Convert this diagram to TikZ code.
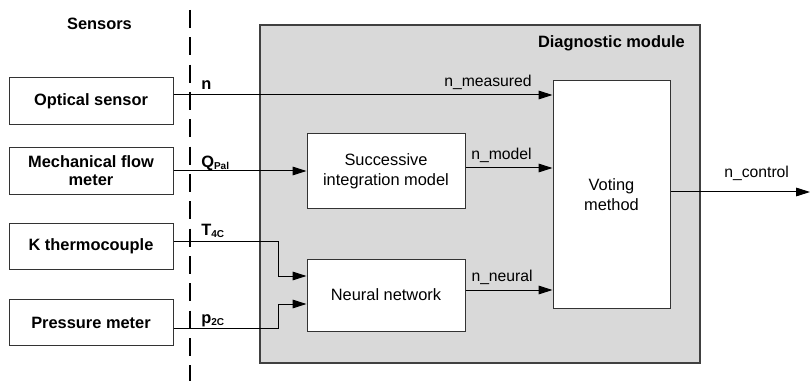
\documentclass[tikz,border=0pt]{standalone}
\usepackage{fontspec}
\setmainfont{Liberation Sans}
\usetikzlibrary{arrows.meta}
\begin{document}
\begin{tikzpicture}[x=0.75pt,y=-0.75pt,
  every node/.style={font=\fontsize{12.3}{14.5}\selectfont},
  sensor/.style={draw=black!80,fill=white,line width=0.75pt,inner sep=0pt,
    minimum width=123pt,minimum height=35pt,align=center,font=\fontsize{12.3}{13.7}\selectfont\bfseries},
  block/.style={draw=black!80,fill=white,line width=0.75pt,inner sep=0pt,align=center,
    font=\fontsize{12.3}{15}\selectfont},
  conn/.style={line width=0.75pt,-{Triangle[length=10.5pt,width=6.5pt]}},
  plain/.style={line width=0.75pt},
  lbl/.style={inner sep=0pt,font=\fontsize{11.8}{14}\selectfont},
  slbl/.style={inner sep=0pt,font=\fontsize{12.3}{14}\selectfont\bfseries}
]
\useasboundingbox (0,0) rectangle (810,381);
% module background
\node[draw=black!75,fill=black!15,line width=0.9pt,inner sep=0pt,minimum width=330pt,minimum height=253.5pt] (mod) at (480,194) {};
\node[anchor=base east,inner sep=0pt,font=\fontsize{12.3}{14}\selectfont\bfseries] (modl) at (685,48) {Diagnostic module};
% sensors
\node[anchor=base,inner sep=0pt,font=\fontsize{12.3}{14}\selectfont\bfseries] (senl) at (99.5,30) {Sensors};
\node[sensor] (opt) at (91,101) {Optical sensor};
\node[sensor] (mech) at (91,171) {Mechanical flow\\meter};
\node[sensor] (kt) at (91,246.5) {K thermocouple};
\node[sensor] (pm) at (91,322.5) {Pressure meter};
% dashed separator
\coordinate (dtop) at (190,10);
\coordinate (dbot) at (190,381);
\draw[line width=1.6pt,dash pattern=on 13.5pt off 7pt] (dtop) -- (dbot);
% blocks
\node[block,minimum width=118.5pt,minimum height=55.5pt] (suc) at (386,171) {Successive\\integration model};
\node[block,minimum width=118.5pt,minimum height=54pt] (nn) at (386,295) {Neural network};
\node[block,minimum width=87.75pt,minimum height=170.25pt] (vot) at (611.5,194.5) {Voting\\method};
% connectors
\coordinate (j1) at (278,241);
\coordinate (j2) at (278,276);
\coordinate (j3) at (278,328);
\coordinate (j4) at (278,304);
\coordinate (ctl) at (810,192);
\draw[conn] (opt.east |- 0,95) -- (vot.west |- 0,95);
\draw[conn] (mech.east) -- (suc.west);
\draw[conn] (suc.east |- 0,168) -- (vot.west |- 0,168);
\draw[conn] (kt.east |- j1) -- (j1) -- (j2) -- (nn.west |- j2);
\draw[conn] (pm.east |- j3) -- (j3) -- (j4) -- (nn.west |- j4);
\draw[conn] (nn.east |- 0,290) -- (vot.west |- 0,290);
\draw[conn] (vot.east |- ctl) -- (ctl);
% labels
\node[slbl,anchor=base west] (ln) at (201,90) {n};
\node[slbl,anchor=base west] (lq) at (201,167) {Q\textsubscript{\fontsize{7.5}{8}\selectfont Pal}};
\node[slbl,anchor=base west] (lt) at (201,235.5) {T\textsubscript{\fontsize{7.5}{8}\selectfont 4C}};
\node[slbl,anchor=base west] (lp) at (201,323) {p\textsubscript{\fontsize{7.5}{8}\selectfont 2C}};
\node[lbl,anchor=base east] (lm) at (532,87) {n\_measured};
\node[lbl,anchor=base east] (lmo) at (532,160) {n\_model};
\node[lbl,anchor=base east] (lne) at (533,281) {n\_neural};
\node[lbl,anchor=base west] (lc) at (724,177) {n\_control};
\end{tikzpicture}
\end{document}
